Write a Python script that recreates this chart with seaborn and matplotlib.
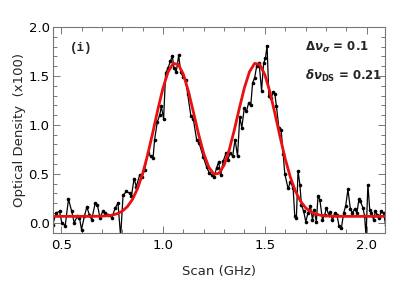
import matplotlib
matplotlib.use("Agg")
import matplotlib.pyplot as plt
from matplotlib.ticker import MultipleLocator
import seaborn as sns
import pandas as pd

# measured data (Scan in GHz, optical density x100)
scan_ghz = [0.459, 0.475, 0.492, 0.503, 0.52, 0.536, 0.552, 0.564, 0.58, 0.59,
            0.60, 0.614, 0.626, 0.639, 0.65, 0.667, 0.678, 0.691, 0.704, 0.716,
            0.732, 0.749, 0.765, 0.779, 0.792, 0.804, 0.82, 0.837, 0.845, 0.858,
            0.869, 0.886, 0.897, 0.91, 0.926, 0.94, 0.951, 0.959, 0.972, 0.984,
            0.992, 1.003, 1.013, 1.025, 1.036, 1.046, 1.054, 1.065, 1.077, 1.087,
            1.098, 1.111, 1.121, 1.137, 1.149, 1.165, 1.178, 1.198, 1.214, 1.227,
            1.24, 1.251, 1.263, 1.273, 1.284, 1.296, 1.309, 1.317, 1.33, 1.342,
            1.354, 1.366, 1.377, 1.387, 1.399, 1.41, 1.42, 1.431, 1.44, 1.45,
            1.46, 1.472, 1.484, 1.494, 1.503, 1.511, 1.52, 1.531, 1.541, 1.549,
            1.557, 1.569, 1.58, 1.59, 1.598, 1.614, 1.626, 1.639, 1.647, 1.655,
            1.663, 1.672, 1.68, 1.691, 1.701, 1.712, 1.724, 1.734, 1.742, 1.753,
            1.761, 1.77, 1.783, 1.794, 1.802, 1.814, 1.822, 1.832, 1.843, 1.854,
            1.864, 1.876, 1.887, 1.897, 1.908, 1.92, 1.93, 1.941, 1.952, 1.962,
            1.969, 1.982, 1.99, 1.997, 2.006, 2.015, 2.023, 2.034, 2.043, 2.052,
            2.06, 2.072, 2.083, 2.093]
optical_density = [-0.02, 0.10, 0.115, 0.00, -0.03, 0.24, 0.115, 0.00, 0.07, 0.05,
                   -0.07, 0.065, 0.16, 0.08, 0.03, 0.20, 0.18, 0.05, 0.115, 0.10,
                   0.08, 0.05, 0.15, 0.20, -0.14, 0.28, 0.32, 0.30, 0.27, 0.45,
                   0.37, 0.49, 0.47, 0.54, 0.71, 0.68, 0.66, 0.85, 1.03, 1.10,
                   1.19, 1.06, 1.53, 1.58, 1.65, 1.70, 1.58, 1.54, 1.71, 1.54,
                   1.49, 1.46, 1.32, 1.09, 1.06, 0.85, 0.81, 0.67, 0.57, 0.51,
                   0.49, 0.47, 0.56, 0.62, 0.49, 0.63, 0.71, 0.64, 0.71, 0.68,
                   0.85, 0.68, 1.08, 0.97, 1.17, 1.14, 1.22, 1.20, 1.43, 1.48,
                   1.60, 1.63, 1.35, 1.63, 1.68, 1.81, 1.29, 1.27, 1.34, 1.32,
                   1.19, 0.97, 0.95, 0.70, 0.50, 0.35, 0.42, 0.35, 0.065, 0.05,
                   0.53, 0.39, 0.18, 0.115, 0.01, 0.10, 0.17, 0.03, 0.13, 0.01,
                   0.27, 0.235, 0.03, 0.08, 0.15, 0.08, 0.105, 0.025, 0.10, 0.08,
                   -0.03, -0.055, 0.10, 0.17, 0.34, 0.14, 0.10, 0.14, 0.10, 0.24,
                   0.22, 0.15, 0.065, -0.14, 0.39, 0.13, 0.10, 0.03, 0.115, 0.08,
                   0.05, 0.115, 0.10, -0.02]

# fitted curve
fit_x = [0.46, 0.65, 0.70, 0.725, 0.75, 0.775, 0.80, 0.825, 0.85, 0.875, 0.90,
         0.925, 0.95, 0.975, 1.00, 1.025, 1.05, 1.075, 1.10, 1.125, 1.15, 1.175,
         1.20, 1.225, 1.25, 1.275, 1.30, 1.325, 1.35, 1.375, 1.40, 1.425, 1.45,
         1.475, 1.50, 1.525, 1.55, 1.575, 1.60, 1.625, 1.65, 1.675, 1.70, 1.725,
         1.75, 1.775, 1.80, 1.825, 1.85, 2.09]
fit_y = [0.065, 0.065, 0.067, 0.071, 0.078, 0.092, 0.118, 0.164, 0.238, 0.349,
         0.501, 0.696, 0.922, 1.159, 1.376, 1.542, 1.628, 1.618, 1.517, 1.342,
         1.125, 0.903, 0.707, 0.567, 0.496, 0.505, 0.589, 0.743, 0.946, 1.170,
         1.381, 1.544, 1.628, 1.617, 1.514, 1.336, 1.112, 0.876, 0.654, 0.468,
         0.323, 0.221, 0.153, 0.112, 0.089, 0.076, 0.070, 0.067, 0.065, 0.065]

x_ticks = [0.5, 1.0, 1.5, 2.0]
y_ticks = [0.0, 0.5, 1.0, 1.5, 2.0]
panel_label = "(i)"
ann1 = r"$\Delta\nu_{\sigma}$ = 0.1"
ann2 = r"$\delta\nu_{\mathrm{DS}}$ = 0.21"

sns.set_style("ticks")
plt.rcParams["font.family"] = ["DejaVu Sans"]
plt.rcParams["mathtext.fontset"] = "custom"
plt.rcParams["mathtext.rm"] = "DejaVu Sans:bold"
plt.rcParams["mathtext.it"] = "DejaVu Sans:italic:bold"
plt.rcParams["mathtext.bf"] = "DejaVu Sans:bold"

fig = plt.figure(figsize=(4.15, 2.87), dpi=100)
ax = fig.add_axes([53 / 415, 54 / 287, 332 / 415, 206 / 287])

data = pd.DataFrame({"scan": scan_ghz, "od": optical_density})
fit = pd.DataFrame({"scan": fit_x, "od": fit_y})

sns.lineplot(data=data, x="scan", y="od", ax=ax, color="black", linewidth=0.9,
             marker="o", markersize=2.6, markeredgewidth=0, sort=False,
             estimator=None)
sns.lineplot(data=fit, x="scan", y="od", ax=ax, color="#e81010", linewidth=2.0,
             sort=False, estimator=None)
for ln in ax.lines:
    ln.set_solid_joinstyle("round")

ax.set_xlim(0.46, 2.09)
ax.set_ylim(-0.105, 2.0)
ax.set_xticks(x_ticks)
ax.set_yticks(y_ticks)
ax.set_xticklabels([f"{v:.1f}" for v in x_ticks])
ax.set_yticklabels([f"{v:.1f}" for v in y_ticks])
ax.xaxis.set_minor_locator(MultipleLocator(0.1))
ax.yaxis.set_minor_locator(MultipleLocator(0.1))

frame_col = "#777777"
for s in ax.spines.values():
    s.set_visible(True)
    s.set_color(frame_col)
    s.set_linewidth(0.8)
ax.tick_params(which="both", direction="in", top=True, right=True,
               color=frame_col, width=0.7, labelsize=9.5, labelcolor="black")
ax.tick_params(which="major", length=5)
ax.tick_params(which="minor", length=2.8)
ax.tick_params(axis="x", pad=4.5)
ax.tick_params(axis="y", pad=2.5)

ax.set_xlabel("Scan (GHz)", fontsize=9.5, labelpad=9)
ax.set_ylabel("Optical Density  (x100)", fontsize=9.5, labelpad=2)

ax.text(0.544, 1.79, panel_label, family="Liberation Mono", fontweight="bold",
        fontsize=9, va="center", ha="left")
ax.text(1.696, 1.795, ann1, fontweight="bold", fontsize=8.5, va="center", ha="left")
ax.text(1.696, 1.50, ann2, fontweight="bold", fontsize=8.5, va="center", ha="left")

fig.savefig("out.png", dpi=100)
